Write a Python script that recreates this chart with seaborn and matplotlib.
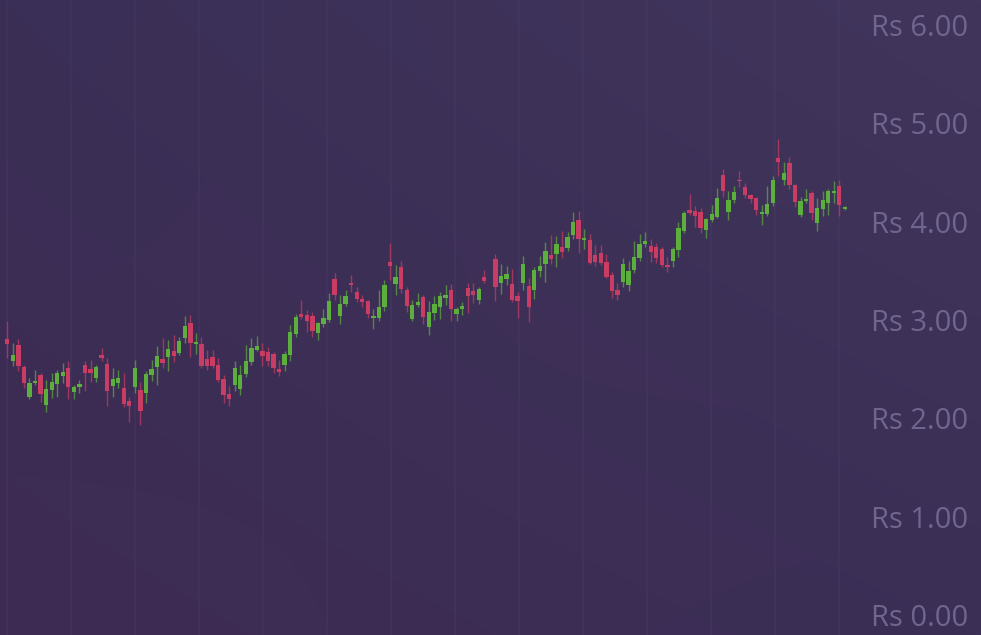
import seaborn as sns
import pandas as pd
import numpy as np
import matplotlib.pyplot as plt
from matplotlib.ticker import FuncFormatter

# OHLC values (one gap after candle 87)
opens = [2.81, 2.58, 2.75, 2.52, 2.22, 2.36, 2.44, 2.14, 2.29, 2.35,
         2.43, 2.51, 2.27, 2.32, 2.54, 2.50, 2.41, 2.645, 2.55, 2.33,
         2.36, 2.31, 2.18, 2.32, 2.29, 2.255, 2.44, 2.52, 2.60, 2.62,
         2.685, 2.67, 2.815, 2.97, 2.76, 2.76, 2.60, 2.62, 2.54, 2.40,
         2.25, 2.34, 2.30, 2.45, 2.57, 2.70, 2.69, 2.68, 2.66, 2.50,
         2.54, 2.645, 2.855, 3.06, 3.05, 3.045, 2.865, 2.96, 3.00, 3.42,
         3.04, 3.16, 3.375, 3.29, 3.215, 3.19, 3.02, 3.02, 3.13, 3.59,
         3.37, 3.54, 3.31, 3.01, 3.155, 3.23, 2.93, 3.075, 3.13, 3.22,
         3.31, 3.06, 3.11, 3.33, 3.30, 3.20, 3.44, 3.62, 3.38, 3.42,
         3.37, 3.24, 3.38, 3.35, 3.31, 3.50, 3.57, 3.66, 3.67, 3.745,
         3.73, 3.865, 4.02, 3.81, 3.81, 3.66, 3.685, 3.59, 3.46, 3.31,
         3.39, 3.36, 3.51, 3.63, 3.77, 3.755, 3.74, 3.72, 3.56, 3.60,
         3.71, 3.91, 4.12, 4.11, 4.10, 3.92, 4.02, 4.05, 4.48, 4.10,
         4.22, 4.43, 4.35, 4.27, 4.245, 4.08, 4.08, 4.19, 4.65, 4.43,
         4.595, 4.375, 4.07, 4.21, 4.29, 3.99, 4.13, 4.19, 4.29, 4.365,
         4.13]
highs = [2.99, 2.77, 2.81, 2.54, 2.41, 2.49, 2.46, 2.39, 2.46, 2.49,
         2.56, 2.58, 2.34, 2.39, 2.58, 2.59, 2.54, 2.72, 2.61, 2.51,
         2.49, 2.46, 2.22, 2.59, 2.37, 2.48, 2.59, 2.74, 2.815, 2.80,
         2.85, 2.83, 3.04, 3.05, 2.87, 2.83, 2.70, 2.70, 2.61, 2.44,
         2.33, 2.58, 2.54, 2.75, 2.82, 2.84, 2.77, 2.73, 2.68, 2.59,
         2.69, 2.95, 3.06, 3.20, 3.10, 3.085, 2.98, 3.11, 3.28, 3.48,
         3.255, 3.31, 3.46, 3.34, 3.255, 3.20, 3.11, 3.31, 3.41, 3.78,
         3.56, 3.60, 3.34, 3.20, 3.28, 3.255, 3.19, 3.245, 3.29, 3.36,
         3.37, 3.13, 3.18, 3.375, 3.38, 3.34, 3.51, 3.67, 3.57, 3.55,
         3.52, 3.29, 3.65, 3.43, 3.54, 3.65, 3.79, 3.87, 3.855, 3.91,
         3.90, 4.10, 4.11, 3.93, 3.88, 3.76, 3.765, 3.67, 3.49, 3.38,
         3.63, 3.60, 3.805, 3.875, 3.90, 3.82, 3.78, 3.745, 3.64, 3.745,
         4.00, 4.11, 4.28, 4.16, 4.14, 4.035, 4.17, 4.34, 4.54, 4.315,
         4.36, 4.52, 4.39, 4.28, 4.255, 4.17, 4.36, 4.47, 4.84, 4.61,
         4.66, 4.385, 4.255, 4.33, 4.31, 4.24, 4.31, 4.33, 4.415, 4.425,
         4.16]
lows = [2.61, 2.53, 2.485, 2.31, 2.20, 2.34, 2.17, 2.06, 2.21, 2.22,
        2.36, 2.20, 2.20, 2.255, 2.28, 2.37, 2.37, 2.58, 2.13, 2.22,
        2.31, 2.12, 1.96, 2.255, 1.93, 2.16, 2.38, 2.34, 2.51, 2.485,
        2.57, 2.645, 2.77, 2.62, 2.66, 2.51, 2.49, 2.51, 2.37, 2.16,
        2.13, 2.28, 2.24, 2.42, 2.54, 2.69, 2.53, 2.53, 2.465, 2.43,
        2.485, 2.58, 2.83, 3.01, 2.88, 2.83, 2.80, 2.93, 2.98, 3.20,
        2.96, 3.14, 3.29, 3.18, 3.13, 3.02, 2.905, 2.995, 3.095, 3.41,
        3.255, 3.28, 3.085, 2.995, 3.13, 2.96, 2.85, 3.00, 3.01, 3.155,
        2.995, 2.995, 3.05, 3.075, 3.17, 3.16, 3.38, 3.19, 3.27, 3.36,
        3.18, 3.02, 3.31, 2.98, 3.21, 3.435, 3.39, 3.57, 3.54, 3.63,
        3.70, 3.82, 3.68, 3.72, 3.57, 3.55, 3.56, 3.425, 3.22, 3.20,
        3.34, 3.30, 3.48, 3.60, 3.745, 3.59, 3.585, 3.54, 3.49, 3.54,
        3.64, 3.89, 4.07, 3.95, 3.89, 3.84, 4.00, 4.035, 4.255, 4.02,
        4.19, 4.35, 4.24, 4.19, 4.07, 3.97, 4.06, 4.16, 4.47, 4.37,
        4.33, 4.15, 4.045, 4.195, 4.02, 3.91, 4.06, 4.07, 4.195, 4.06,
        4.12]
closes = [2.76, 2.645, 2.53, 2.36, 2.36, 2.38, 2.245, 2.30, 2.37, 2.46,
          2.47, 2.32, 2.32, 2.35, 2.46, 2.465, 2.52, 2.61, 2.28, 2.40,
          2.41, 2.15, 2.13, 2.51, 2.075, 2.45, 2.50, 2.63, 2.56, 2.71,
          2.635, 2.79, 2.94, 2.77, 2.775, 2.53, 2.535, 2.53, 2.39, 2.24,
          2.20, 2.51, 2.44, 2.58, 2.72, 2.74, 2.635, 2.58, 2.51, 2.475,
          2.66, 2.88, 3.03, 3.035, 2.995, 2.89, 2.97, 3.02, 3.19, 3.255,
          3.16, 3.25, 3.355, 3.215, 3.18, 3.06, 3.045, 3.13, 3.36, 3.55,
          3.435, 3.32, 3.14, 3.15, 3.18, 3.035, 3.085, 3.165, 3.25, 3.255,
          3.11, 3.11, 3.14, 3.25, 3.255, 3.315, 3.40, 3.335, 3.45, 3.47,
          3.20, 3.19, 3.57, 3.13, 3.51, 3.55, 3.70, 3.62, 3.77, 3.695,
          3.85, 3.995, 3.825, 3.83, 3.585, 3.595, 3.585, 3.44, 3.30, 3.255,
          3.57, 3.50, 3.64, 3.77, 3.80, 3.69, 3.63, 3.56, 3.54, 3.72,
          3.94, 4.085, 4.09, 4.06, 3.94, 4.03, 4.075, 4.245, 4.315, 4.22,
          4.305, 4.41, 4.27, 4.23, 4.12, 4.10, 4.18, 4.42, 4.605, 4.50,
          4.375, 4.205, 4.215, 4.23, 4.09, 4.14, 4.22, 4.31, 4.31, 4.17,
          4.15]
price_ticks = [0, 1, 2, 3, 4, 5, 6]

df = pd.DataFrame({'open': opens, 'high': highs, 'low': lows, 'close': closes})
pos = np.arange(len(df))
pos[87:] += 1  # missing session
df['pos'] = pos
up = df['close'] >= df['open']

sns.set_theme(style='dark')
plt.rcParams['font.family'] = ['Open Sans', 'DejaVu Sans']

fig = plt.figure(figsize=(9.81, 6.35), dpi=100)
ax = fig.add_axes([0, 0, 1, 1])

# diagonal purple gradient background
c_tl = np.array([58, 47, 86]) / 255
c_tr = np.array([65, 53, 92]) / 255
c_bl = np.array([62, 43, 83]) / 255
c_br = np.array([59, 47, 86]) / 255
gy, gx = np.mgrid[0:1:100j, 0:1:100j]
img = ((1 - gy)[..., None] * ((1 - gx)[..., None] * c_tl + gx[..., None] * c_tr)
       + gy[..., None] * ((1 - gx)[..., None] * c_bl + gx[..., None] * c_br))
ax.imshow(img, extent=[0, 1, 0, 1], transform=ax.transAxes, aspect='auto',
          interpolation='bilinear', zorder=-10)

red = '#c93c63'
green = '#5cae3d'
colors = np.where(up, green, red)

ax.vlines(df['pos'], df['low'], df['high'], colors=colors, linewidth=1.0, alpha=0.7, zorder=2)
body_bottom = np.minimum(df['open'], df['close'])
body_height = np.maximum(np.abs(df['close'] - df['open']), 0.02)
ax.bar(df['pos'], body_height, bottom=body_bottom, width=0.78, color=colors,
       linewidth=0, zorder=3)

ax.set_xlim(-1.316, 175.54)
ax.set_ylim(-0.2035, 6.256)

# faint vertical grid only
ax.set_xticks(np.linspace(0, 150, 14))
ax.tick_params(axis='x', length=0, labelbottom=False)
ax.grid(axis='x', color='#4c4170', linewidth=1.5, alpha=0.25)
ax.grid(axis='y', visible=False)

ax.yaxis.tick_right()
ax.set_yticks(price_ticks)
ax.yaxis.set_major_formatter(FuncFormatter(lambda v, p: f'Rs {v:.2f}'))
ax.tick_params(axis='y', length=0, pad=-9.4, labelsize=21, labelcolor='#6f6690')
for lbl in ax.get_yticklabels():
    lbl.set_horizontalalignment('right')

for s in ax.spines.values():
    s.set_visible(False)
ax.set_facecolor('none')

fig.savefig('out.png', dpi=100)
